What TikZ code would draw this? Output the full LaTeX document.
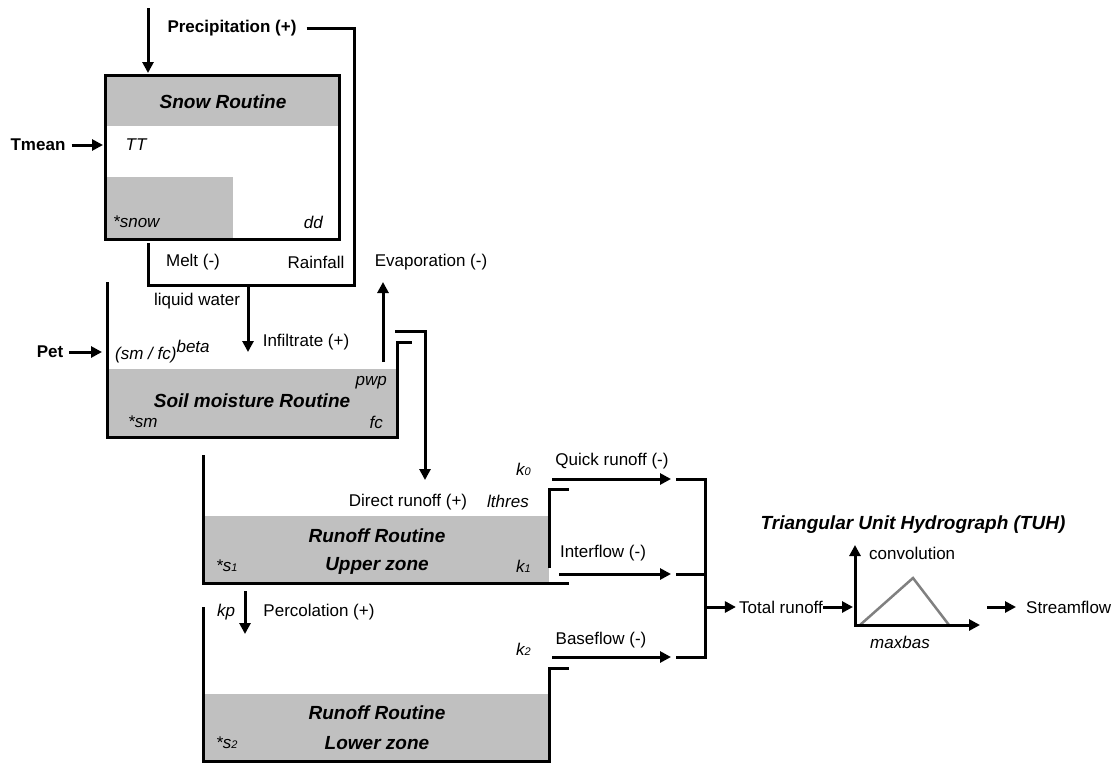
\documentclass[tikz,border=0pt]{standalone}
\usepackage{fontspec}
\setmainfont{Liberation Sans}
\usetikzlibrary{arrows.meta}
\definecolor{fillgray}{RGB}{192,192,192}
\definecolor{trigray}{RGB}{128,128,128}
\newcommand{\smalld}[1]{{\fontsize{11}{12}\selectfont\itshape #1}}
\begin{document}
\begin{tikzpicture}[x=1pt,y=-1pt,
  line/.style={line width=3pt},
  arr/.style={line width=3pt,-{Triangle[width=11pt,length=11pt]}},
  lab/.style={inner sep=0pt,font=\fontsize{17}{18}\selectfont},
  blab/.style={inner sep=0pt,font=\fontsize{17}{18}\selectfont\bfseries},
  ilab/.style={inner sep=0pt,font=\fontsize{17}{18}\selectfont\itshape},
  ttl/.style={inner sep=0pt,font=\fontsize{19}{22}\selectfont\bfseries\itshape},
  tank/.style={fill=fillgray}
]
\useasboundingbox (0,0) rectangle (1117,763);

% ---------------- Snow routine ----------------
\fill[tank] (105,75) rectangle (339,126);
\fill[tank] (105,177) rectangle (233,239);
\draw[line] (105,75) rectangle (339,239);
\node[ttl] (snowt) at (223,102) {Snow Routine};
\node[ilab] (tt) at (136,145) {TT};
\node[ilab,anchor=west] (snowv) at (113,222) {*snow};
\node[ilab,anchor=east] (dd) at (323,222) {dd};

\node[blab] (tmean) at (38,145) {Tmean};
\coordinate (snowW) at (103,145);
\draw[arr] ([xshift=6pt]tmean.east) -- (snowW);

\node[blab] (precip) at (232,28) {Precipitation (+)};
\coordinate (ptop) at (148,8);
\coordinate (snowN) at (148,73);
\draw[arr] (ptop) -- (snowN);
\coordinate (rainR) at (354,28);
\coordinate (rainB) at (354,285);
\coordinate (meltB) at (148,285);
\coordinate (meltT) at (148,243);
\draw[line] ([xshift=10pt]precip.east) -- (rainR) -- (rainB) -- (meltB) -- (meltT);
\node[lab] (melt) at (193,262) {Melt (-)};
\node[lab] (rain) at (316,262) {Rainfall};

% ---------------- Soil moisture ----------------
\coordinate (lwT) at (248,285);
\coordinate (lwB) at (248,352);
\draw[arr] (lwT) -- (lwB);
\node[lab] (liquid) at (197,301) {liquid water};
\node[lab] (infil) at (306,342) {Infiltrate (+)};

\fill[tank] (107,369) rectangle (397,437);
\draw[line] (107,282) -- (107,437) -- (397,437) -- (397,342) -- (412,342);
\node[ttl] (soilt) at (252,401) {Soil moisture Routine};
\node[ilab,anchor=east] (pwp) at (387,383) {pwp};
\node[ilab,anchor=west] (sm) at (128,422) {*sm};
\node[ilab,anchor=east] (fc) at (383,422) {fc};

\node[blab] (pet) at (50,352) {Pet};
\coordinate (soilW) at (102,352);
\draw[arr] ([xshift=6pt]pet.east) -- (soilW);
\node[ilab,anchor=west] (smfc) at (115,352) {(sm / fc)\raisebox{7pt}{beta}};

\node[lab] (evap) at (431,262) {Evaporation (-)};
\coordinate (evB) at (383,362);
\coordinate (evT) at (383,282);
\draw[arr] (evB) -- (evT);

\coordinate (byA) at (395,331);
\coordinate (byB) at (425,331);
\coordinate (byC) at (425,480);
\draw[arr] (byA) -- (byB) -- (byC);

% ---------------- Upper zone ----------------
\fill[tank] (203,516) rectangle (549,583);
\draw[line] (203,455) -- (203,583) -- (569,583);
\draw[line] (549,568) -- (549,489) -- (569,489);
\node[lab] (direct) at (408,502) {Direct runoff (+)};
\node[ilab] (lthres) at (508,501) {lthres};
\node[ilab,anchor=east] (k0) at (531,469) {k\smalld{0}};
\node[ttl] (uz1) at (377,536) {Runoff Routine};
\node[ttl] (uz2) at (377,566) {Upper zone};
\node[ilab,anchor=west] (s1) at (216,566) {*s\smalld{1}};
\node[ilab,anchor=east] (k1) at (531,566) {k\smalld{1}};

\coordinate (qA) at (552,479);  \coordinate (qB) at (671,479);
\coordinate (iA) at (559,574);  \coordinate (iB) at (671,574);
\coordinate (bA) at (552,657);  \coordinate (bB) at (671,657);
\draw[arr] (qA) -- (qB);
\draw[arr] (iA) -- (iB);
\draw[arr] (bA) -- (bB);
\node[lab] (quick) at (612,461) {Quick runoff (-)};
\node[lab] (inter) at (603,553) {Interflow (-)};
\node[lab] (base) at (601,640) {Baseflow (-)};

% ---------------- Percolation & lower zone ----------------
\coordinate (pA) at (245,591);
\coordinate (pB) at (245,634);
\draw[arr] (pA) -- (pB);
\node[ilab] (kp) at (226,612) {kp};
\node[lab] (perc) at (319,612) {Percolation (+)};

\fill[tank] (203,694) rectangle (549,761);
\draw[line] (203,607) -- (203,761) -- (549,761) -- (549,668) -- (569,668);
\node[ilab,anchor=east] (k2) at (531,649) {k\smalld{2}};
\node[ttl] (lz1) at (377,713) {Runoff Routine};
\node[ttl] (lz2) at (377,743) {Lower zone};
\node[ilab,anchor=west] (s2) at (216,743) {*s\smalld{2}};

% ---------------- Collector ----------------
\node[lab] (total) at (781,607) {Total runoff};
\coordinate (cQ) at (676,479); \coordinate (cQr) at (705,479);
\coordinate (cI) at (676,574); \coordinate (cIr) at (705,574);
\coordinate (cB) at (676,657); \coordinate (cBr) at (705,657);
\draw[line] (cQ) -- (cQr) -- (cBr) -- (cB);
\draw[line] (cI) -- (cIr);
\draw[arr] (cQr |- total.west) -- ([xshift=-3pt]total.west);

% ---------------- TUH ----------------
\node[ttl] (tuh) at (913,525) {Triangular Unit Hydrograph (TUH)};
\coordinate (ax0) at (855,625);
\coordinate (axY) at (855,545);
\coordinate (axX) at (980,625);
\draw[trigray,line width=2.5pt] (860,625) -- (913,578) -- (949,625);
\draw[line,{Triangle[width=11pt,length=11pt]}-{Triangle[width=11pt,length=11pt]}] (axY) -- (ax0) -- (axX);
\node[lab,anchor=west] (conv) at (869,553) {convolution};
\node[ilab] (maxbas) at (900,642) {maxbas};
\draw[arr] (total.east) -- ([xshift=-2pt]ax0 |- total.east);

\node[lab,anchor=west] (stream) at (1026,607) {Streamflow};
\coordinate (sA) at (987,607);
\draw[arr] (sA |- stream.west) -- ([xshift=-10pt]stream.west);
\end{tikzpicture}
\end{document}
